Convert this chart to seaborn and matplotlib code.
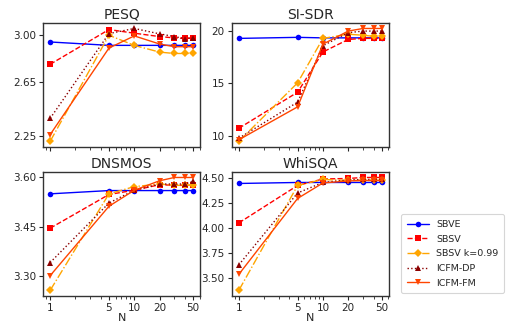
import numpy as np
import pandas as pd
import matplotlib
matplotlib.use("Agg")
import matplotlib.pyplot as plt
import seaborn as sns
from matplotlib.ticker import ScalarFormatter, NullFormatter

N = [1, 5, 10, 20, 30, 40, 50]
methods = ["SBVE", "SBSV", "SBSV k=0.99", "ICFM-DP", "ICFM-FM"]
metrics = ["PESQ", "SI-SDR", "DNSMOS", "WhiSQA"]

pesq_sbve = [2.945, 2.92, 2.92, 2.92, 2.92, 2.92, 2.92]
pesq_sbsv = [2.78, 3.037, 3.01, 2.985, 2.975, 2.972, 2.975]
pesq_sbsv_k = [2.21, 2.995, 2.92, 2.87, 2.86, 2.86, 2.86]
pesq_icfm_dp = [2.38, 3.007, 3.045, 3.005, 2.985, 2.97, 2.975]
pesq_icfm_fm = [2.26, 2.90, 2.99, 2.93, 2.91, 2.91, 2.91]

sisdr_sbve = [19.3, 19.4, 19.35, 19.35, 19.35, 19.35, 19.35]
sisdr_sbsv = [10.7, 14.15, 18.0, 19.2, 19.3, 19.3, 19.3]
sisdr_sbsv_k = [9.45, 15.05, 19.3, 19.7, 19.6, 19.5, 19.5]
sisdr_icfm_dp = [9.75, 13.2, 18.6, 19.85, 20.0, 20.0, 20.0]
sisdr_icfm_fm = [9.6, 12.75, 18.75, 20.0, 20.25, 20.25, 20.25]

dnsmos_sbve = [3.55, 3.56, 3.56, 3.56, 3.56, 3.56, 3.56]
dnsmos_sbsv = [3.445, 3.548, 3.561, 3.578, 3.576, 3.576, 3.576]
dnsmos_sbsv_k = [3.255, 3.55, 3.572, 3.58, 3.576, 3.576, 3.576]
dnsmos_icfm_dp = [3.34, 3.522, 3.561, 3.58, 3.58, 3.58, 3.588]
dnsmos_icfm_fm = [3.30, 3.512, 3.561, 3.59, 3.60, 3.60, 3.60]

whisqa_sbve = [4.45, 4.46, 4.46, 4.46, 4.46, 4.46, 4.46]
whisqa_sbsv = [4.055, 4.43, 4.495, 4.50, 4.51, 4.51, 4.51]
whisqa_sbsv_k = [3.38, 4.43, 4.49, 4.48, 4.48, 4.48, 4.48]
whisqa_icfm_dp = [3.635, 4.355, 4.46, 4.485, 4.49, 4.49, 4.49]
whisqa_icfm_fm = [3.54, 4.30, 4.455, 4.475, 4.48, 4.48, 4.48]

yticks = {
    "PESQ": [2.25, 2.65, 3.00],
    "SI-SDR": [10, 15, 20],
    "DNSMOS": [3.30, 3.45, 3.60],
    "WhiSQA": [3.50, 3.75, 4.00, 4.25, 4.50],
}
xticks = [1, 5, 10, 20, 50]

data = {
    "PESQ": [pesq_sbve, pesq_sbsv, pesq_sbsv_k, pesq_icfm_dp, pesq_icfm_fm],
    "SI-SDR": [sisdr_sbve, sisdr_sbsv, sisdr_sbsv_k, sisdr_icfm_dp, sisdr_icfm_fm],
    "DNSMOS": [dnsmos_sbve, dnsmos_sbsv, dnsmos_sbsv_k, dnsmos_icfm_dp, dnsmos_icfm_fm],
    "WhiSQA": [whisqa_sbve, whisqa_sbsv, whisqa_sbsv_k, whisqa_icfm_dp, whisqa_icfm_fm],
}

rows = []
for metric in metrics:
    for m, vals in zip(methods, data[metric]):
        for n, v in zip(N, vals):
            rows.append({"metric": metric, "method": m, "N": n, "value": v})
df = pd.DataFrame(rows)

styles = {
    "SBVE": dict(color="#0000ff", marker="o", linestyle="-"),
    "SBSV": dict(color="#ff0000", marker="s", linestyle="--"),
    "SBSV k=0.99": dict(color="#ffa500", marker="D", linestyle="-."),
    "ICFM-DP": dict(color="#8b0000", marker="^", linestyle=":"),
    "ICFM-FM": dict(color="#ff4500", marker="v", linestyle="-"),
}

sns.set_style("ticks")
plt.rcParams["font.family"] = ["DejaVu Sans"]
plt.rcParams["axes.edgecolor"] = "#333333"
plt.rcParams["axes.linewidth"] = 1.0

fig, axes = plt.subplots(2, 2, figsize=(5.09, 3.26), dpi=100, sharex=True)
fig.subplots_adjust(left=0.0845, right=0.764, top=0.930, bottom=0.092,
                    wspace=0.2, hspace=0.2)

for ax, metric in zip(axes.flat, metrics):
    sub = df[df.metric == metric]
    for m in methods:
        s = styles[m]
        d = sub[sub.method == m]
        sns.lineplot(data=d, x="N", y="value", ax=ax, color=s["color"],
                     marker=s["marker"], linestyle=s["linestyle"],
                     markersize=4, linewidth=1.0, markeredgewidth=0,
                     label=m, legend=False)
    ax.set_xscale("log")
    ax.set_title(metric, fontsize=10, pad=3)
    ax.set_ylabel("")
    ax.set_xlabel("")
    ax.set_yticks(yticks[metric])
    ax.yaxis.set_major_formatter(matplotlib.ticker.FormatStrFormatter(
        "%.0f" if metric == "SI-SDR" else "%.2f"))
    ax.tick_params(labelsize=7.5, length=3, width=0.8, pad=2)
    ax.tick_params(which="minor", length=2, width=0.6)

for ax in axes[1]:
    ax.set_xticks(xticks)
    ax.xaxis.set_major_formatter(ScalarFormatter())
    ax.xaxis.set_minor_formatter(NullFormatter())
    ax.set_xlabel("N", fontsize=8, labelpad=0)
for ax in axes[0]:
    ax.tick_params(labelbottom=False)

handles, labels = axes[0, 0].get_legend_handles_labels()
leg = fig.legend(handles, labels, loc="lower left",
                 bbox_to_anchor=(0.779, 0.086), fontsize=6.8,
                 frameon=True, handlelength=2.3, borderpad=0.6,
                 labelspacing=0.6, handletextpad=0.8)
leg.get_frame().set_edgecolor("#cccccc")
leg.get_frame().set_linewidth(0.8)

fig.savefig("out.png", dpi=100)
